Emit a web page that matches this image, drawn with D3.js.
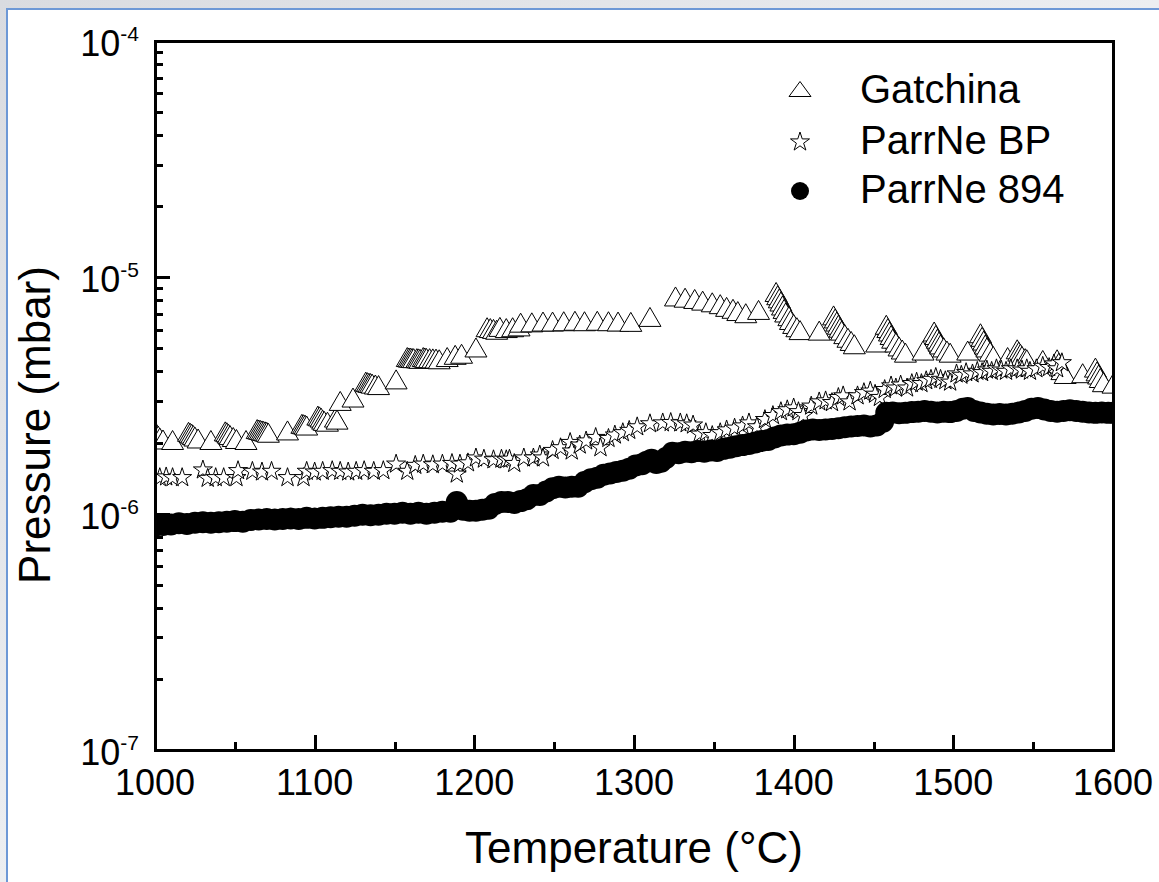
<!DOCTYPE html>
<html>
<head>
<meta charset="utf-8">
<script src="https://cdn.jsdelivr.net/npm/d3@7"></script>
<style>
  body { margin: 0; background: #e7e8eb; }
  svg { display: block; }
</style>
</head>
<body>
<svg id="chart" width="1159" height="882"></svg>
<script>
// Pressure values are given in units of 1e-6 mbar
const pressureUnit = 1e-6;

// Gatchina (open triangles)
const gatchinaT = [1001,1002,1003,1005,1011,1021,1022,1023,1024,1025,1027,1035,1044,1045,1046,1047,1049,1051,1057,
  1064,1065,1066,1067,1068,1069,1070,1071,1083,1092,1093,1094,1095,1102,1103,1104,1105,1106,1108,1113,1114,1116,1124,
  1132,1133,1134,1135,1136,1138,1140,1151,1158,1159,1160,1161,1162,1164,1165,1166,1168,1169,1170,1172,1174,1176,1178,
  1183,1188,1192,1201,1208,1210,1212,1214,1216,1220,1224,1228,1229,1236,1243,1249,1256,1263,1269,1277,1284,1290,1298,
  1310,1326,1332,1338,1343,1349,1354,1358,1362,1365,1370,1378,1389,1390,1391,1392,1393,1394,1395,1397,1398,1400,1402,1404,
  1416,1425,1426,1427,1428,1429,1430,1432,1434,1436,1438,1452,1458,1459,1460,1461,1462,1464,1466,1468,1470,1481,
  1488,1489,1490,1491,1492,1494,1496,1498,1509,1517,1518,1519,1520,1521,1523,1525,1534,1540,1541,1542,1543,1545,1546,
  1556,1565,1566,1567,1568,1570,1581,1589,1590,1591,1592,1594,1600];
const gatchinaP = [2.18,2.14,2.10,2.06,2.05,2.22,2.20,2.18,2.15,2.12,2.08,2.05,2.23,2.21,2.18,2.15,2.11,2.07,2.05,
  2.28,2.27,2.26,2.25,2.24,2.23,2.22,2.20,2.25,2.40,2.39,2.38,2.36,2.60,2.58,2.55,2.50,2.47,2.45,2.55,2.50,3.00,3.10,
  3.62,3.60,3.58,3.57,3.55,3.52,3.50,3.70,4.60,4.58,4.57,4.56,4.55,4.55,4.54,4.52,4.60,4.58,4.56,4.55,4.54,4.53,4.50,
  4.60,4.70,4.75,5.05,6.15,6.10,6.05,6.00,6.17,6.10,6.15,6.20,6.43,6.45,6.50,6.50,6.52,6.55,6.52,6.55,6.52,6.50,6.48,
  6.80,8.30,8.20,8.10,7.97,7.84,7.70,7.50,7.36,7.20,7.05,7.28,8.67,8.40,8.15,7.90,7.60,7.35,7.10,6.85,6.60,6.35,6.15,5.98,
  5.95,6.90,6.70,6.50,6.30,6.12,5.95,5.75,5.55,5.38,5.21,5.30,6.30,6.10,5.90,5.70,5.50,5.30,5.10,4.95,4.80,4.90,
  5.90,5.70,5.50,5.35,5.20,5.05,4.90,4.80,4.90,5.80,5.60,5.40,5.20,5.05,4.85,4.65,4.60,4.96,4.85,4.75,4.65,4.55,4.50,
  4.47,4.50,4.35,4.20,4.05,3.90,3.93,4.15,4.00,3.88,3.75,3.60,3.55];

// ParrNe BP (open stars)
const parrBPT = [1003,1007,1011,1017,1030,1033,1038,1043,1051,1052,1061,1067,1073,1083,1093,1095,1100,1105,1111,1116,
  1121,1126,1131,1137,1143,1151,1158,1163,1168,1174,1180,1186,1189,1191,1196,1201,1206,1212,1217,1220,1222,1225,1231,
  1237,1241,1243,1249,1254,1260,1261,1266,1270,1276,1279,1284,1288,1293,1297,1302,1310,1318,1323,1329,1333,1337,1341,
  1345,1349,1354,1358,1363,1368,1372,1377,1382,1387,1392,1396,1400,1403,1406,1411,1416,1420,1424,1428,1431,1435,1440,
  1444,1448,1451,1454,1457,1461,1464,1467,1471,1474,1477,1480,1483,1486,1489,1492,1495,1498,1502,1505,1508,1512,1515,
  1518,1521,1524,1527,1530,1533,1536,1540,1543,1546,1548,1552,1556,1560,1563,1565,1568];
const parrBPP = [1.42,1.43,1.42,1.42,1.53,1.41,1.42,1.42,1.42,1.52,1.51,1.50,1.51,1.42,1.42,1.51,1.50,1.51,1.52,1.51,
  1.50,1.51,1.52,1.51,1.52,1.62,1.51,1.60,1.62,1.61,1.62,1.63,1.47,1.62,1.64,1.72,1.70,1.69,1.70,1.69,1.70,1.63,1.72,
  1.72,1.77,1.72,1.85,1.90,2.00,1.84,1.95,2.03,2.10,1.90,2.08,2.15,2.20,2.25,2.33,2.40,2.42,2.43,2.42,2.40,2.37,2.17,
  2.20,2.14,2.20,2.26,2.30,2.35,2.42,2.33,2.50,2.60,2.70,2.75,2.80,2.70,2.60,2.85,2.97,3.00,2.95,3.10,3.15,2.97,3.15,
  3.25,3.30,3.20,3.10,3.35,3.47,3.40,3.50,3.40,3.55,3.60,3.55,3.65,3.70,3.77,3.70,3.65,3.60,3.90,3.85,3.95,3.90,4.00,
  3.95,4.05,4.00,4.10,4.05,4.00,4.10,4.10,4.05,4.10,4.00,4.10,4.20,4.15,4.30,4.10,4.35];

// ParrNe 894 (filled circles)
const parr894T = [1000,1005,1010,1015,1020,1025,1030,1035,1040,1045,1050,1055,1060,1065,1070,1075,1080,1085,1090,1095,
  1100,1105,1110,1115,1120,1125,1130,1135,1140,1145,1150,1155,1160,1165,1170,1175,1180,1185,1189,1193,1197,1201,1205,
  1209,1213,1217,1221,1225,1229,1233,1237,1241,1245,1249,1253,1257,1261,1265,1269,1273,1277,1281,1285,1289,1293,1297,
  1301,1305,1308,1311,1314,1317,1320,1324,1328,1332,1336,1340,1344,1348,1352,1356,1360,1364,1368,1372,1376,1380,1384,
  1388,1392,1396,1400,1404,1408,1412,1416,1420,1424,1428,1432,1436,1440,1444,1448,1452,1456,1458,1462,1466,1470,1474,
  1478,1482,1486,1490,1494,1498,1502,1506,1509,1513,1517,1521,1525,1529,1533,1537,1541,1545,1549,1553,1557,1561,1565,
  1569,1573,1577,1581,1585,1589,1593,1597,1600];
const parr894P = [0.89,0.895,0.90,0.91,0.905,0.915,0.92,0.915,0.92,0.925,0.93,0.925,0.94,0.945,0.95,0.945,0.95,0.955,
  0.95,0.96,0.955,0.96,0.965,0.97,0.97,0.98,0.99,0.985,0.99,1.00,1.00,1.01,1.00,1.01,1.00,1.01,1.02,1.02,1.12,1.04,1.03,
  1.03,1.04,1.05,1.10,1.12,1.12,1.11,1.13,1.15,1.20,1.20,1.24,1.28,1.30,1.29,1.30,1.30,1.36,1.40,1.42,1.46,1.48,1.50,
  1.52,1.55,1.60,1.62,1.66,1.69,1.64,1.66,1.72,1.81,1.80,1.83,1.82,1.84,1.83,1.85,1.84,1.88,1.90,1.93,1.95,1.97,2.00,
  2.03,2.05,2.10,2.14,2.16,2.17,2.20,2.25,2.27,2.26,2.27,2.28,2.30,2.32,2.34,2.35,2.36,2.34,2.36,2.45,2.67,2.68,2.66,
  2.67,2.69,2.70,2.72,2.70,2.68,2.70,2.69,2.72,2.78,2.80,2.72,2.68,2.65,2.63,2.64,2.63,2.65,2.68,2.72,2.78,2.80,2.76,
  2.72,2.70,2.72,2.74,2.72,2.70,2.68,2.67,2.68,2.67,2.67];

const xMajorTicks = [1000, 1100, 1200, 1300, 1400, 1500, 1600];
const xMinorTicks = [1050, 1150, 1250, 1350, 1450, 1550];
const yExponents = [-7, -6, -5, -4];
const legendLabels = ["Gatchina", "ParrNe BP", "ParrNe 894"];
const xTitle = "Temperature (°C)";
const yTitle = "Pressure (mbar)";

const svg = d3.select("#chart");
const W = 1159, H = 882;
const font = "'Liberation Sans', Arial, Helvetica, sans-serif";

// page backdrop and the white panel
const defs = svg.append("defs");
const bg = defs.append("linearGradient").attr("id", "bg").attr("x1", 0).attr("y1", 0).attr("x2", 1).attr("y2", 1);
bg.append("stop").attr("offset", "0%").attr("stop-color", "#d9dbe0");
bg.append("stop").attr("offset", "50%").attr("stop-color", "#eceef1");
bg.append("stop").attr("offset", "100%").attr("stop-color", "#dfe2e6");
svg.append("rect").attr("width", W).attr("height", H).attr("fill", "url(#bg)");
svg.append("rect").attr("x", 7).attr("y", 9).attr("width", W).attr("height", H)
  .attr("fill", "#fff").attr("stroke", "#6d98d6").attr("stroke-width", 2);

const plot = { left: 155, right: 1113, top: 41, bottom: 750 };
const x = d3.scaleLinear().domain([1000, 1600]).range([plot.left, plot.right]);
const y = d3.scaleLog().domain([1e-7, 1e-4]).range([plot.bottom, plot.top]);

defs.append("clipPath").attr("id", "plotClip").append("rect")
  .attr("x", plot.left).attr("y", plot.top)
  .attr("width", plot.right - plot.left).attr("height", plot.bottom - plot.top);

// marker shapes
const triPath = (w, h) => `M0,${-h / 2}L${w / 2},${h / 2}L${-w / 2},${h / 2}Z`;
const starPath = r => d3.symbol(d3.symbolStar, r * r / 0.8908130915292852)();

function series(T, P) { return T.map((t, i) => ({ t, p: P[i] * pressureUnit })); }

const marks = svg.append("g").attr("clip-path", "url(#plotClip)");

marks.append("g").selectAll("path").data(series(gatchinaT, gatchinaP)).join("path")
  .attr("d", triPath(22, 19))
  .attr("transform", d => `translate(${x(d.t)},${y(d.p)})`)
  .attr("fill", "#fff").attr("stroke", "#000").attr("stroke-width", 1);

marks.append("g").selectAll("path").data(series(parrBPT, parrBPP)).join("path")
  .attr("d", starPath(10))
  .attr("transform", d => `translate(${x(d.t)},${y(d.p)})`)
  .attr("fill", "#fff").attr("stroke", "#000").attr("stroke-width", 1);

marks.append("g").selectAll("circle").data(series(parr894T, parr894P)).join("circle")
  .attr("cx", d => x(d.t)).attr("cy", d => y(d.p)).attr("r", 11)
  .attr("fill", "#000");

// axes with inward ticks (majors 15 px, minors 8 px)
const yMajor = yExponents.map(e => Math.pow(10, e));
const yMinor = [];
yExponents.slice(0, -1).forEach(e => { for (let k = 2; k <= 9; k++) yMinor.push(k * Math.pow(10, e)); });

function styleAxis(g) {
  g.select(".domain").remove();
  g.selectAll(".tick line").attr("stroke", "#000").attr("stroke-width", 3)
    .attr("shape-rendering", "crispEdges");
}
svg.append("g").attr("transform", `translate(0,${plot.bottom})`)
  .call(d3.axisBottom(x).tickValues(xMajorTicks).tickSize(-15).tickFormat("")).call(styleAxis);
svg.append("g").attr("transform", `translate(0,${plot.bottom})`)
  .call(d3.axisBottom(x).tickValues(xMinorTicks).tickSize(-8).tickFormat("")).call(styleAxis);
svg.append("g").attr("transform", `translate(${plot.left},0)`)
  .call(d3.axisLeft(y).tickValues(yMajor).tickSize(-15).tickFormat("")).call(styleAxis);
svg.append("g").attr("transform", `translate(${plot.left},0)`)
  .call(d3.axisLeft(y).tickValues(yMinor).tickSize(-8).tickFormat("")).call(styleAxis);

// frame
svg.append("rect").attr("x", plot.left).attr("y", plot.top)
  .attr("width", plot.right - plot.left).attr("height", plot.bottom - plot.top)
  .attr("fill", "none").attr("stroke", "#000").attr("stroke-width", 3)
  .attr("shape-rendering", "crispEdges");

// tick labels
svg.append("g").selectAll("text").data(xMajorTicks).join("text")
  .attr("x", d => x(d)).attr("y", 795)
  .attr("text-anchor", "middle").attr("font-family", font).attr("font-size", 36)
  .text(d => d);

const yl = svg.append("g").selectAll("text").data(yExponents).join("text")
  .attr("x", 139).attr("y", d => y(Math.pow(10, d)) + 15)
  .attr("text-anchor", "end").attr("font-family", font).attr("font-size", 36);
yl.append("tspan").text("10");
yl.append("tspan").attr("dy", -15).attr("font-size", 21).text(d => "-" + Math.abs(d));

// axis titles
svg.append("text").attr("x", (plot.left + plot.right) / 2).attr("y", 863)
  .attr("text-anchor", "middle").attr("font-family", font).attr("font-size", 44)
  .text(xTitle);
svg.append("text").attr("transform", "translate(50,425) rotate(-90)")
  .attr("text-anchor", "middle").attr("font-family", font).attr("font-size", 44)
  .text(yTitle);

// legend
const legendY = [103, 154, 203];
const lg = svg.append("g");
lg.append("path").attr("d", triPath(22, 15)).attr("transform", `translate(800,${legendY[0] - 14})`)
  .attr("fill", "#fff").attr("stroke", "#000").attr("stroke-width", 1);
lg.append("path").attr("d", starPath(10)).attr("transform", `translate(800,${legendY[1] - 12})`)
  .attr("fill", "#fff").attr("stroke", "#000").attr("stroke-width", 1);
lg.append("circle").attr("cx", 800).attr("cy", legendY[2] - 12).attr("r", 9).attr("fill", "#000");
lg.selectAll("text").data(legendLabels).join("text")
  .attr("x", 860).attr("y", (d, i) => legendY[i])
  .attr("font-family", font).attr("font-size", 40).text(d => d);
</script>
</body>
</html>
